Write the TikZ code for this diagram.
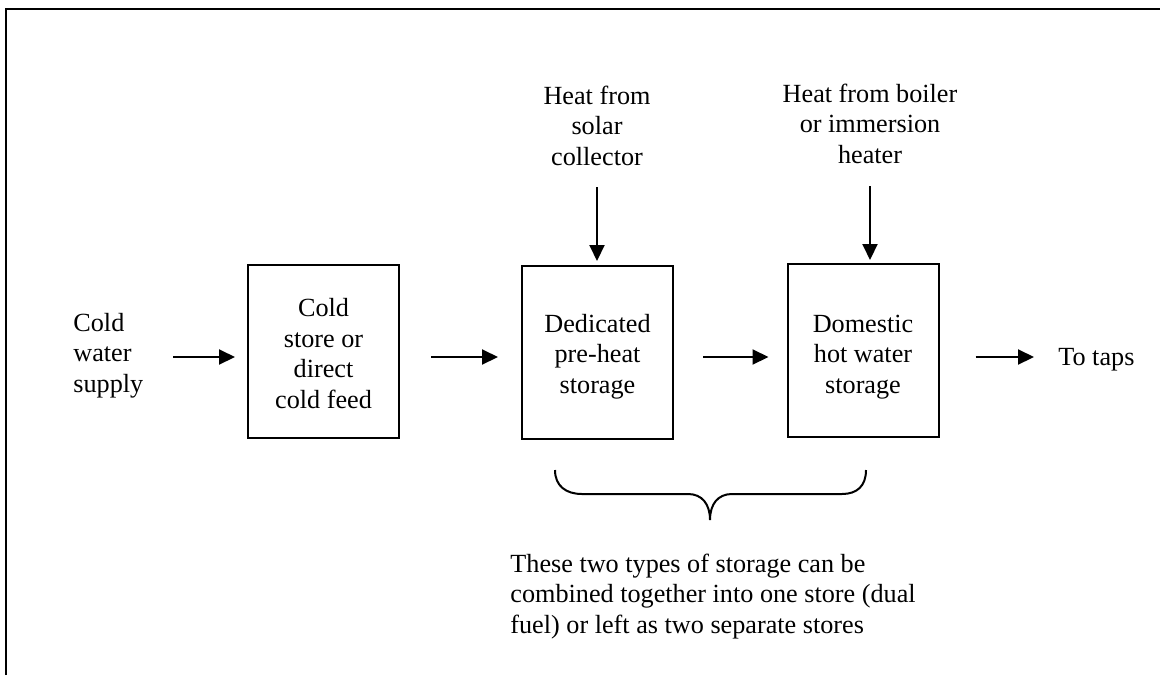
\documentclass[tikz,border=0pt]{standalone}
\usepackage{fontspec}
\setmainfont{Liberation Serif}
\usetikzlibrary{arrows.meta}
\tikzset{
  box/.style={draw, line width=1pt, minimum width=75.5pt, minimum height=86.5pt, inner sep=0pt},
  lbl/.style={inner sep=0pt, font=\fontsize{13.1}{15.2}\selectfont},
  arr/.style={line width=1pt, -{Triangle[length=8pt,width=7.5pt]}},
  frame/.style={line width=1.2pt},
}
\begin{document}
\begin{tikzpicture}[x=0.5pt,y=-0.5pt]
\useasboundingbox (0,0) rectangle (1160,675);
% frame
\draw[frame] (6,675) -- (6,9) -- (1160,9);
% boxes
\node[box] (b1) at (323.5,351.5) {};
\node[box] (b2) at (597.5,352.5) {};
\node[box] (b3) at (863,350.5) {};
% box texts (anchor base = last line)
\node[lbl, align=center, anchor=base] (t1) at (323.5,408) {Cold\\store or\\direct\\cold feed};
\node[lbl, align=center, anchor=base] (t2) at (597.5,393) {Dedicated\\pre-heat\\storage};
\node[lbl, align=center, anchor=base] (t3) at (863,393) {Domestic\\hot water\\storage};
% outer texts
\node[lbl, align=left, anchor=base west] (cws) at (73,392) {Cold\\water\\supply};
\node[lbl, align=center, anchor=base] (h1) at (597,165) {Heat from\\solar\\collector};
\node[lbl, align=center, anchor=base] (h2) at (870,163) {Heat from boiler\\or immersion\\heater};
\node[lbl, anchor=base west] (taps) at (1058,365) {To taps};
\node[lbl, align=left, anchor=base west] (note) at (510,633) {These two types of storage can be\\combined together into one store (dual\\fuel) or left as two separate stores};
% arrows
\coordinate (p1) at (173,357);
\coordinate (s1) at (597,187);
\coordinate (s2) at (870,186);
\draw[arr, shorten >=6pt] (p1) -- (p1 -| b1.west);
\draw[arr, shorten <=15.5pt, shorten >=11.5pt] (b1.east |- p1) -- (b2.west |- p1);
\draw[arr, shorten <=14.5pt, shorten >=9pt] (b2.east |- p1) -- (b3.west |- p1);
\draw[arr, shorten <=18pt, shorten >=12pt] (b3.east |- p1) -- (taps.west |- p1);
\draw[arr, shorten >=2pt] (s1) -- (s1 |- b2.north);
\draw[arr, shorten >=1.5pt] (s2) -- (s2 |- b3.north);
% brace
\draw[line width=1pt] (555,470) .. controls (555,486) and (566,494) .. (582,494)
  -- (688,494) .. controls (702,494) and (710,504) .. (710,520)
  .. controls (710,504) and (718,494) .. (732,494)
  -- (842,494) .. controls (857,494) and (866,486) .. (866,470);
\end{tikzpicture}
\end{document}
